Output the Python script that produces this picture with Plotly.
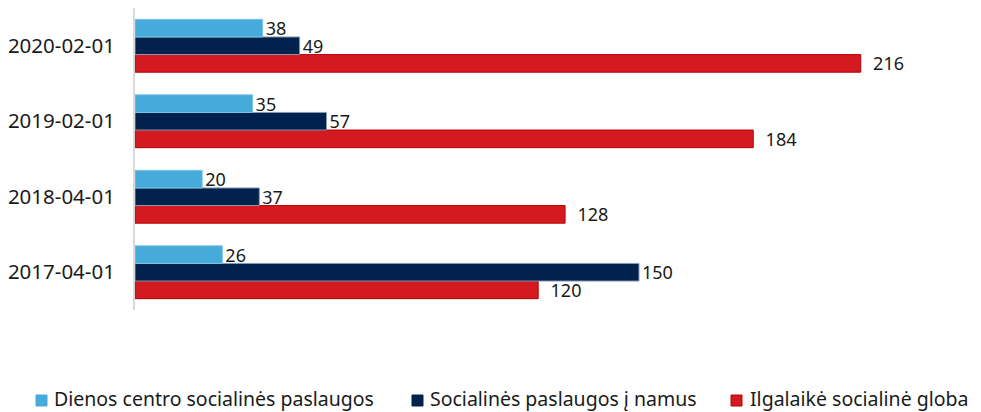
import plotly.graph_objects as go

categories = ["2017-04-01", "2018-04-01", "2019-02-01", "2020-02-01"]
dienos = [26, 20, 35, 38]
namus = [150, 37, 57, 49]
globa = [120, 128, 184, 216]

names = ["Dienos centro socialinės paslaugos", "Socialinės paslaugos į namus", "Ilgalaikė socialinė globa"]
colors = ["#46aadb", "#00224d", "#d41a21"]
lines = ["#7cc4e6", "#8a9bb3", "#b80000"]

FONT = "Noto Sans"
OFF = 8  # page body margin
W, H = 981 - OFF, 412 - OFF
L, R, T, B = 135 - OFF, 6, 0, 102
PW, PH = W - L - R, H - T - B

fig = go.Figure()
series = [globa, namus, dienos]
order = [2, 1, 0]
for idx, vals in zip(order, series):
    fig.add_trace(go.Bar(
        y=categories, x=vals, orientation="h", name=names[idx],
        marker=dict(color=colors[idx], line=dict(color=lines[idx], width=1)),
        text=[("  " if idx == 2 else "") + str(v) for v in vals], textposition="outside",
        textfont=dict(family=FONT, size=18, color="#1a1a1a"),
        constraintext="none",
        cliponaxis=False, showlegend=False,
    ))

# custom legend (screen pixel positions converted to paper coords)
def px(x):
    return (x - OFF - L) / PW

def py(y):
    return (H - B - (y - OFF)) / PH

legend_items = [(36, 52), (412, 428), (731, 748)]
shapes = []
annotations = []
for i, (sx, tx) in enumerate(legend_items):
    shapes.append(dict(type="rect", xref="paper", yref="paper",
                       x0=px(sx), x1=px(sx + 11), y0=py(406), y1=py(395),
                       fillcolor=colors[i], line=dict(color=lines[i] if i == 2 else colors[i], width=1)))
    annotations.append(dict(xref="paper", yref="paper", x=px(tx), y=py(398.5),
                            xanchor="left", yanchor="middle", showarrow=False,
                            text=names[i], font=dict(family=FONT, size=19.5, color="#1a1a1a")))

fig.update_layout(
    width=W, height=H,
    margin=dict(l=L, r=R, t=T, b=B, pad=0),
    barmode="group", bargap=0.3, bargroupgap=0,
    plot_bgcolor="white", paper_bgcolor="white",
    font=dict(family=FONT, size=18, color="#1a1a1a"),
    xaxis=dict(range=[0, 250], showgrid=False, zeroline=False, showticklabels=False,
               showline=False, ticks="", automargin=False),
    yaxis=dict(type="category", categoryorder="array", categoryarray=categories,
               showgrid=False, showline=True, linecolor="#d9d9d9", linewidth=2,
               ticks="", tickfont=dict(family=FONT, size=20.5, color="#1a1a1a"),
               ticklabelstandoff=14, automargin=False),
    showlegend=False,
    shapes=shapes,
    annotations=annotations,
)

fig.write_html("out.html")
